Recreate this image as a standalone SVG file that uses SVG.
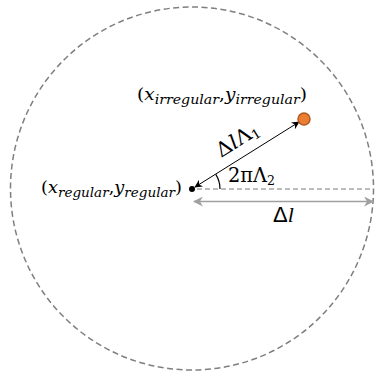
<svg xmlns="http://www.w3.org/2000/svg" width="375" height="376" viewBox="0 0 375 376">
<defs>
<style>
.m{font-family:"DejaVu Serif","Liberation Serif",serif;fill:#000}
.i{font-style:italic}
.s{font-size:13px}
</style>
<marker id="ab" viewBox="0 0 10 10" refX="9" refY="5" markerWidth="8" markerHeight="8" markerUnits="userSpaceOnUse" orient="auto-start-reverse"><path d="M0,0 L10,5 L0,10 L3,5 Z" fill="#000"/></marker>
<marker id="ag" viewBox="0 0 10 10" refX="9" refY="5" markerWidth="10" markerHeight="10" markerUnits="userSpaceOnUse" orient="auto-start-reverse"><path d="M0,0 L10,5 L0,10 L3,5 Z" fill="#a0a0a0"/></marker>
</defs>
<rect width="375" height="376" fill="#fff"/>
<g id="boundary">
<circle cx="192" cy="188.5" r="181.5" fill="none" stroke="#7f7f7f" stroke-width="1.5" stroke-dasharray="6 3.5"/>
</g>
<g id="connectors">
<line x1="197" y1="189" x2="373" y2="189" stroke="#a6a6a6" stroke-width="1.5" stroke-dasharray="5 3"/>
<line x1="194" y1="201.5" x2="373" y2="201.5" stroke="#a0a0a0" stroke-width="1.5" marker-start="url(#ag)" marker-end="url(#ag)"/>
<line x1="195" y1="187" x2="299" y2="122" stroke="#000" stroke-width="1" marker-start="url(#ab)" marker-end="url(#ab)"/>
<path d="M215.8,174.4 A28,28 0 0 1 220,189" fill="none" stroke="#000" stroke-width="1.2"/>
</g>
<g id="regular">
<circle cx="192" cy="189" r="3" fill="#000"/>
<text class="m" x="41" y="193" font-size="17" textLength="141" lengthAdjust="spacingAndGlyphs">(<tspan class="i">x</tspan><tspan class="i s" dy="4">regular</tspan><tspan dy="-4">,</tspan><tspan class="i">y</tspan><tspan class="i s" dy="4">regular</tspan><tspan dy="-4">)</tspan></text>
</g>
<g id="irregular">
<circle cx="304" cy="119" r="6" fill="#ed7d31" stroke="#ae5a21" stroke-width="1.5"/>
<text class="m" x="137" y="100" font-size="17" textLength="170" lengthAdjust="spacingAndGlyphs">(<tspan class="i">x</tspan><tspan class="i s" dy="4">irregular</tspan><tspan dy="-4">,</tspan><tspan class="i">y</tspan><tspan class="i s" dy="4">irregular</tspan><tspan dy="-4">)</tspan></text>
</g>
<g id="labels">
<text class="m" font-size="20" transform="translate(221,158) rotate(-32)" textLength="47" lengthAdjust="spacingAndGlyphs">Δ<tspan class="i">l</tspan>Λ<tspan class="s" dy="3">1</tspan></text>
<text class="m" x="228" y="182" font-size="20" textLength="47" lengthAdjust="spacingAndGlyphs">2πΛ<tspan class="s" dy="3">2</tspan></text>
<text class="m" x="273" y="222" font-size="22" style="font-family:'Liberation Sans','DejaVu Sans',sans-serif">Δ<tspan class="i" style="font-family:'Liberation Serif',serif">l</tspan></text>
</g>
</svg>
